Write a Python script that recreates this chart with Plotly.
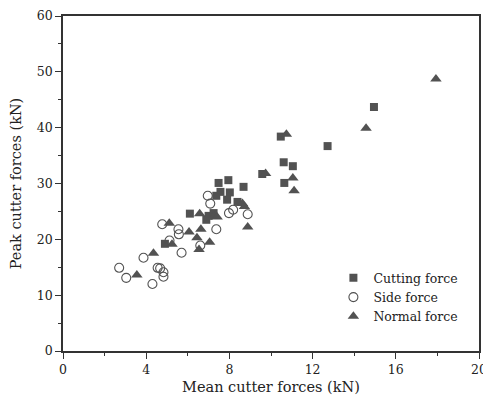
import plotly.graph_objects as go

# Mean vs. peak cutter forces (kN)
cutting_mean = [4.90, 6.10, 6.89, 7.00, 7.24, 7.37, 7.48, 7.57, 7.89, 7.95,
                8.02, 8.39, 8.68, 9.58, 10.47, 10.61, 10.64, 11.05, 12.72, 14.95]
cutting_peak = [19.2, 24.6, 23.5, 24.2, 24.7, 27.8, 30.1, 28.5, 27.1, 30.6,
                28.4, 26.7, 29.4, 31.7, 38.4, 33.8, 30.1, 33.1, 36.7, 43.7]

side_mean = [2.70, 3.04, 3.87, 4.30, 4.55, 4.67, 4.83, 4.83, 4.77, 5.12,
             5.55, 5.57, 5.70, 6.60, 6.96, 7.08, 7.37, 7.98, 8.18, 8.88]
side_peak = [14.9, 13.1, 16.7, 12.0, 14.9, 14.8, 14.1, 13.3, 22.7, 19.8,
             21.8, 20.9, 17.6, 18.9, 27.8, 26.4, 21.8, 24.7, 25.3, 24.5]

normal_mean = [3.55, 4.35, 5.11, 5.24, 6.06, 6.44, 6.54, 6.57, 6.63, 7.05,
               7.25, 7.41, 8.63, 8.72, 8.88, 9.74, 10.74, 11.05, 11.11, 14.57, 17.93]
normal_peak = [13.6, 17.5, 22.9, 19.1, 21.3, 20.3, 18.2, 24.6, 21.8, 19.5,
               24.1, 24.0, 26.4, 25.9, 22.2, 31.8, 38.8, 31.0, 28.7, 39.9, 48.7]

x_ticks = [0, 4, 8, 12, 16, 20]
y_ticks = [0, 10, 20, 30, 40, 50, 60]

MARK = "#525252"
FONT = "DejaVu Serif"

fig = go.Figure()
fig.add_trace(go.Scatter(
    x=cutting_mean, y=cutting_peak, mode="markers", name="Cutting force",
    marker=dict(symbol="square", size=8, color=MARK, line=dict(width=0)),
))
fig.add_trace(go.Scatter(
    x=side_mean, y=side_peak, mode="markers", name="Side force",
    marker=dict(symbol="circle-open", size=9, color=MARK, line=dict(width=1.1, color=MARK)),
))
fig.add_trace(go.Scatter(
    x=normal_mean, y=normal_peak, mode="markers", name="Normal force",
    marker=dict(symbol="triangle-up", size=10, color=MARK, line=dict(width=0)),
))

axis_common = dict(
    showgrid=False, zeroline=False, showline=True, linecolor="#333333", linewidth=1.5,
    mirror=True, ticks="outside", ticklen=6, tickwidth=1.2, tickcolor="#333333",
    tickfont=dict(family=FONT, size=12.5, color="#222222"),
    ticklabeloverflow="allow", automargin=False,
)

fig.update_xaxes(
    range=[0, 20], tickvals=x_ticks, ticktext=[str(v) for v in x_ticks],
    minor=dict(dtick=2, tick0=0, ticks="outside", ticklen=3, tickcolor="#333333", tickwidth=1.2),
    title=dict(text="Mean cutter forces (kN)", font=dict(family=FONT, size=14.5, color="#222222"), standoff=6),
    **axis_common,
)
fig.update_yaxes(
    range=[0, 60], tickvals=y_ticks, ticktext=[str(v) for v in y_ticks],
    minor=dict(dtick=5, tick0=0, ticks="outside", ticklen=3, tickcolor="#333333", tickwidth=1.2),
    title=dict(text="Peak cutter forces (kN)", font=dict(family=FONT, size=14.5, color="#222222"), standoff=12),
    **axis_common,
)

fig.update_layout(
    width=483, height=405,
    margin=dict(l=63, r=4, t=16, b=54),
    paper_bgcolor="white", plot_bgcolor="white",
    font=dict(family=FONT, color="#222222"),
    legend=dict(
        x=0.65, y=0.262, xanchor="left", yanchor="top",
        font=dict(family=FONT, size=12.5, color="#222222"),
        bgcolor="rgba(0,0,0,0)", itemwidth=30, tracegroupgap=0,
    ),
)

fig.write_html("out.html")
